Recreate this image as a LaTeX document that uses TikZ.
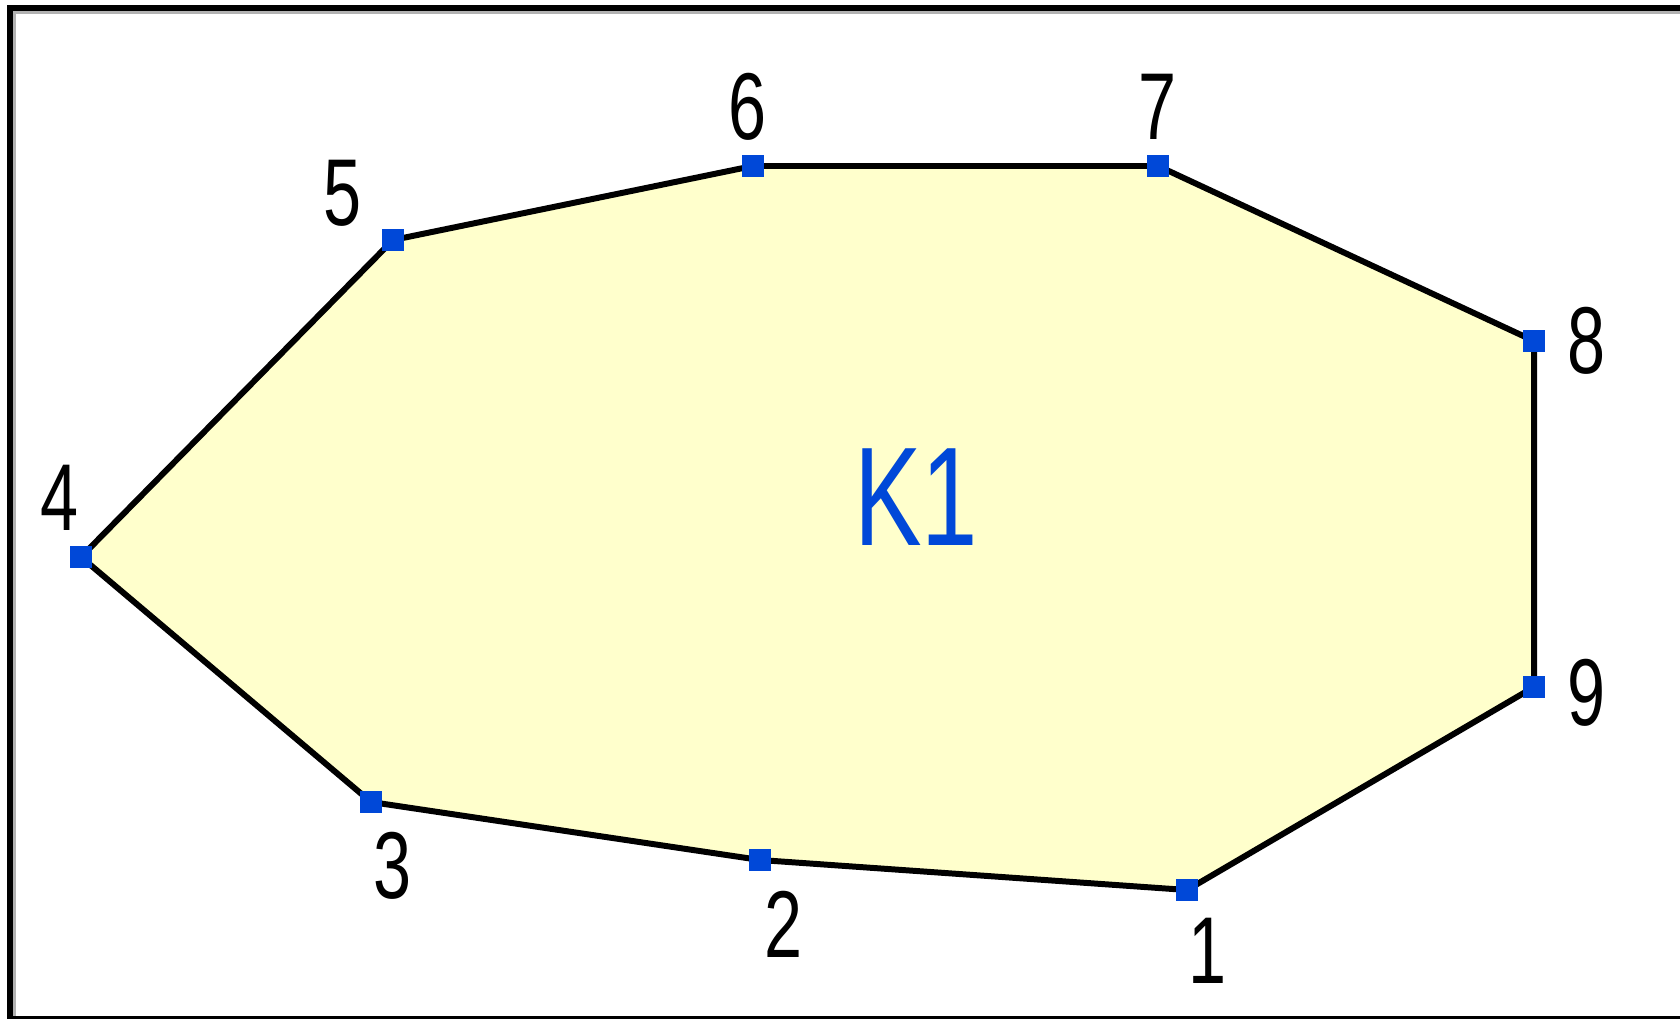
\documentclass[tikz,border=0pt]{standalone}
\usepackage{fontspec}
\setmainfont{Liberation Sans}
\usepackage{graphicx}
\usetikzlibrary{positioning}
\definecolor{cadblue}{HTML}{0048D8}
\definecolor{cadyellow}{HTML}{FFFFCC}
\newcommand{\narrowtext}[1]{\scalebox{0.72}[1]{#1}}

\begin{document}
\begin{tikzpicture}[
    x=0.01cm, y=-0.01cm,
    vertex/.style={rectangle, fill=cadblue, inner sep=0pt, minimum size=0.22cm},
    num/.style={font=\fontsize{27}{27}\selectfont, inner sep=0pt},
    outline/.style={draw=black, line width=1.7pt, fill=cadyellow, line join=miter},
    frame/.style={line width=0.065cm}
  ]
  \useasboundingbox (0,0) rectangle (1680,1019);

  % sheet border
  \draw[gray!60, line width=0.03cm] (14.5,1019) -- (14.5,12.5) -- (1680,12.5);
  \draw[frame] (10,1019) -- (10,8) -- (1680,8);
  \draw[frame] (10,1019) -- (1680,1019);

  % polygon corners
  \foreach \i/\x/\y in {1/1187/890, 2/760/860, 3/371/802, 4/81/557, 5/393/240,
                        6/753/166, 7/1158/166, 8/1534/341, 9/1534/687}
    \coordinate (v\i) at (\x,\y);

  \draw[outline] (v1) -- (v2) -- (v3) -- (v4) -- (v5) -- (v6) -- (v7)
    -- (v8) -- (v9) -- cycle;

  \foreach \i in {1,...,9}
    \node[vertex] (m\i) at (v\i) {};

  % point numbers
  \foreach \i/\x/\y in {1/1207/951, 2/783/924, 3/393/866, 4/60/498, 5/343/193,
                        6/747/107, 7/1157/107, 8/1586/341, 9/1586/693}
    \node[num] (n\i) at (\x,\y) {\narrowtext{\i}};

  \node[font=\fontsize{40}{40}\selectfont, text=cadblue, inner sep=0pt]
    (k1) at (916,497) {\narrowtext{K1}};
\end{tikzpicture}
\end{document}
